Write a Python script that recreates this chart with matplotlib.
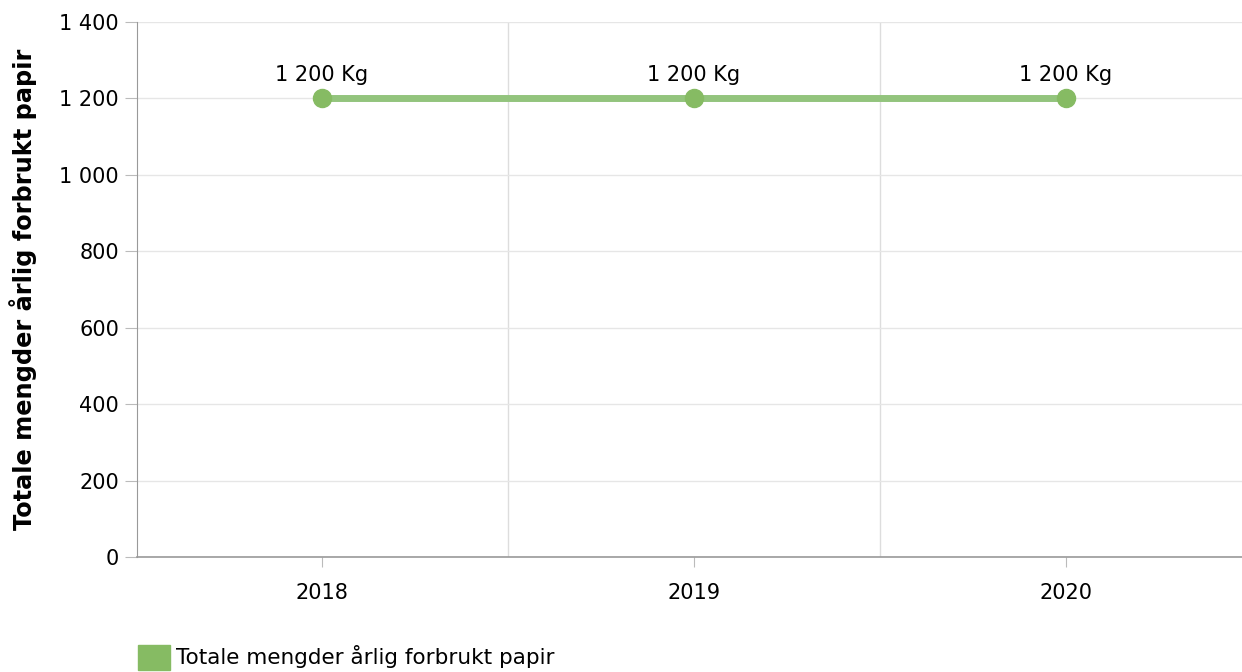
import matplotlib.pyplot as plt
from matplotlib.patches import Patch
from matplotlib.ticker import FuncFormatter

years = ["2018", "2019", "2020"]
values = [1200, 1200, 1200]
series_name = "Totale mengder årlig forbrukt papir"
y_ticks = [0, 200, 400, 600, 800, 1000, 1200, 1400]

plt.rcParams['font.family'] = ['DejaVu Sans']
fs = 15

fig = plt.figure(figsize=(12.42, 6.72), dpi=100)
ax = fig.add_axes([137/1242, 1 - 557/672, 1 - 137/1242, (557 - 22)/672])

x = list(range(len(years)))
ax.plot(x, values, color='#93c47d', lw=5, solid_capstyle='butt', zorder=3)
ax.plot(x, values, 'o', color='#86bb63', ms=13, zorder=4)
for xi, v in zip(x, values):
    ax.annotate("{:,} Kg".format(v).replace(",", " "), (xi, v), xytext=(0, 10),
                textcoords='offset points', ha='center', va='bottom', fontsize=fs)

ax.set_xlim(-0.497, 2.473)
ax.set_ylim(0, 1400)
ax.set_xticks(x)
ax.set_xticklabels(years)
ax.set_yticks(y_ticks)
ax.yaxis.set_major_formatter(FuncFormatter(lambda v, p: "{:,}".format(int(v)).replace(",", " ")))

ax.grid(axis='y', color='#e6e6e6', lw=1, zorder=0)
for b in [0.5, 1.5]:
    ax.axvline(b, color='#dddddd', lw=1, zorder=0)

for s in ['top', 'right']:
    ax.spines[s].set_visible(False)
ax.spines['left'].set_color('#999999')
ax.spines['bottom'].set_color('#999999')
ax.spines['bottom'].set_linewidth(1.2)
ax.tick_params(axis='y', length=9, color='#bbbbbb', labelsize=fs, pad=4)
ax.tick_params(axis='x', length=7, color='#bbbbbb', labelsize=fs, pad=12)

ax.set_ylabel("Totale mengder årlig forbrukt papir", fontsize=17.3, fontweight='bold', labelpad=16)

fig.legend(handles=[Patch(color='#86bb63')], labels=[series_name], loc='lower left',
           bbox_to_anchor=(119/1242, -0.026), frameon=False, fontsize=15.5,
           handlelength=1.45, handleheight=1.45, handletextpad=0.3)

fig.savefig("out.png", dpi=100)
